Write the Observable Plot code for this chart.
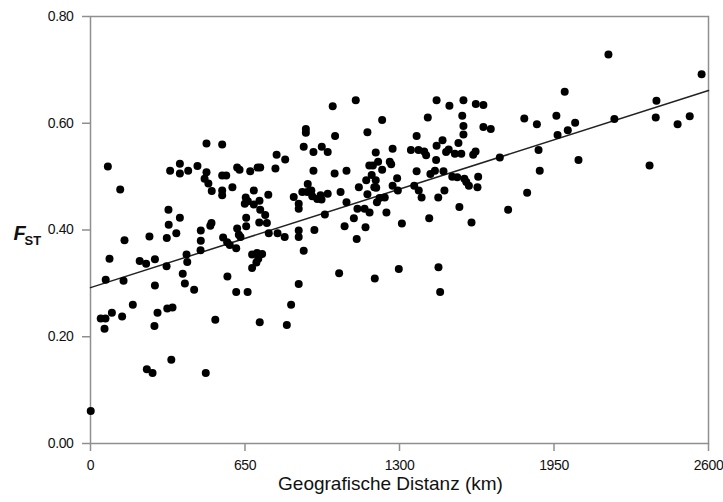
<!DOCTYPE html>
<html>
<head>
<meta charset="utf-8">
<script src="https://cdn.jsdelivr.net/npm/d3@7"></script>
<script src="https://cdn.jsdelivr.net/npm/@observablehq/plot@0.6"></script>
<style>
  html, body { margin: 0; padding: 0; background: #fff; }
  #chart svg g[aria-label$="tick label"] { letter-spacing: -0.4px; }
</style>
</head>
<body>
<div id="chart"></div>
<script>
// Pairwise geographic distance (km) between populations
const distanceKm = [
  73, 125, 143, 80, 207, 234, 271, 320, 248, 321, 329, 328, 376, 361, 335, 376, 376, 411, 450, 488,
  554, 488, 480, 496, 510, 554, 571, 554, 554, 597, 617, 627, 672, 703, 714, 783, 819, 778, 687, 748,
  653, 662, 649, 711, 687, 714, 735, 655, 655, 710, 742, 617, 624, 631, 750, 787, 817, 509, 504, 464,
  464, 463, 404, 407, 558, 575, 586, 613, 680, 701, 722, 706, 698, 680, 855,
  64, 139, 388, 397, 436, 271, 178, 90, 43, 63, 59, 133, 282, 269, 323, 345, 340, 237, 261, 485,
  525, 576, 613, 661, 712, 826, 844, 876, 1,
  1046, 1196, 1297, 1464, 1471,
  1019, 1116, 1227, 1456, 1510, 1569, 1621, 1653, 1564, 1419, 1569, 1569, 1653, 1684, 906, 906, 1029, 1165, 1372, 897,
  973, 938, 998, 1200, 1271, 1348, 1380, 1404, 1412, 1456, 1481, 1507, 1496, 1533, 1560, 1548, 1620, 1610, 1722, 1454,
  1210, 1259, 1265, 1173, 1188, 1227, 1183, 1200, 1160, 1194, 1202, 1129, 1165, 1205, 1216, 1238, 1271, 1290, 1293, 1362,
  1381, 1393, 1463, 1489, 1372, 1430, 1449, 1485, 1522, 1543, 1573, 1581, 1592, 1628, 1631, 938, 1027, 1077, 914, 891,
  912, 929, 933, 954, 972, 968, 998, 1052, 876, 876, 1077, 986, 1108, 1123, 1153, 1174, 1069, 1157, 1245, 1310,
  1425, 1552, 1603, 1757, 942, 876, 876, 1120, 897,
  2179, 2571, 1995, 2381, 1825, 1878, 1960, 2039, 2008, 1965, 2204, 2378, 2470, 2521, 1885, 1890, 2053, 2352, 1837
];

// Pairwise genetic differentiation (F_ST), same order as distanceKm
const fst = [
  0.519, 0.476, 0.381, 0.346, 0.342, 0.337, 0.345, 0.332, 0.388, 0.385, 0.410, 0.438, 0.423, 0.394, 0.511, 0.524, 0.506, 0.511, 0.520, 0.562,
  0.560, 0.508, 0.496, 0.487, 0.473, 0.502, 0.502, 0.474, 0.465, 0.480, 0.517, 0.513, 0.510, 0.517, 0.517, 0.541, 0.532, 0.515, 0.474, 0.466,
  0.461, 0.454, 0.449, 0.455, 0.448, 0.438, 0.428, 0.423, 0.407, 0.414, 0.413, 0.403, 0.391, 0.387, 0.394, 0.394, 0.387, 0.413, 0.408, 0.399,
  0.380, 0.362, 0.354, 0.340, 0.386, 0.377, 0.372, 0.366, 0.354, 0.357, 0.355, 0.346, 0.339, 0.329, 0.462,
  0.307, 0.305, 0.318, 0.300, 0.288, 0.296, 0.260, 0.245, 0.234, 0.234, 0.215, 0.238, 0.245, 0.220, 0.253, 0.255, 0.157, 0.139, 0.132, 0.132,
  0.232, 0.313, 0.284, 0.284, 0.227, 0.222, 0.260, 0.299, 0.061,
  0.319, 0.309, 0.327, 0.330, 0.284,
  0.632, 0.643, 0.606, 0.643, 0.633, 0.643, 0.636, 0.634, 0.614, 0.611, 0.595, 0.579, 0.593, 0.589, 0.589, 0.582, 0.576, 0.583, 0.576, 0.556,
  0.556, 0.546, 0.546, 0.545, 0.552, 0.550, 0.550, 0.547, 0.540, 0.558, 0.568, 0.551, 0.546, 0.543, 0.543, 0.563, 0.547, 0.541, 0.536, 0.531,
  0.528, 0.528, 0.523, 0.521, 0.521, 0.513, 0.503, 0.493, 0.493, 0.480, 0.479, 0.480, 0.467, 0.452, 0.460, 0.461, 0.483, 0.497, 0.474, 0.483,
  0.474, 0.461, 0.461, 0.474, 0.510, 0.505, 0.511, 0.510, 0.500, 0.499, 0.496, 0.490, 0.483, 0.480, 0.500, 0.511, 0.506, 0.511, 0.486, 0.471,
  0.471, 0.474, 0.463, 0.458, 0.457, 0.465, 0.468, 0.471, 0.449, 0.440, 0.452, 0.429, 0.422, 0.440, 0.440, 0.433, 0.407, 0.405, 0.433, 0.412,
  0.422, 0.443, 0.414, 0.438, 0.400, 0.399, 0.387, 0.383, 0.361,
  0.729, 0.692, 0.659, 0.642, 0.609, 0.598, 0.614, 0.601, 0.587, 0.578, 0.608, 0.611, 0.598, 0.613, 0.550, 0.511, 0.531, 0.521, 0.470
];

const xTicks = [0, 650, 1300, 1950, 2600];
const yTicks = [0, 0.2, 0.4, 0.6, 0.8];

// Linear fit of F_ST against distance
const fitIntercept = 0.292;
const fitSlope = 0.000142;

const points = distanceKm.map((d, i) => ({d, f: fst[i]}));
const fitLine = [0, 2600].map(d => ({d, f: fitIntercept + fitSlope * d}));

const axisColor = "#8f8f8f";

const chart = Plot.plot({
  width: 723,
  height: 502,
  marginLeft: 90,
  marginRight: 15,
  marginTop: 16,
  marginBottom: 59,
  style: {
    fontFamily: "'Liberation Sans', Arial, sans-serif",
    fontSize: "14px",
    color: "#111",
    background: "#fff",
    overflow: "visible"
  },
  x: {domain: [0, 2600]},
  y: {domain: [0, 0.8]},
  marks: [
    Plot.axisX({ticks: xTicks, tickSize: 8, tickPadding: 9, stroke: axisColor, strokeWidth: 1.5, fill: "#111", label: null, tickFormat: d => String(d)}),
    Plot.axisY({ticks: yTicks, tickSize: 8, tickPadding: 9, stroke: axisColor, strokeWidth: 1.5, fill: "#111", label: null, tickFormat: d3.format(".2f")}),
    Plot.frame({stroke: axisColor, strokeWidth: 1.5}),
    Plot.line(fitLine, {x: "d", y: "f", stroke: "#222", strokeWidth: 1.5}),
    Plot.dot(points, {x: "d", y: "f", r: 4, fill: "#000", stroke: "none"}),
    Plot.text(["Geografische Distanz (km)"], {text: d => d, frameAnchor: "bottom", dx: -9, dy: 46, fontSize: 19, fill: "#111"}),
    Plot.text(["F"], {text: d => d, frameAnchor: "left", dx: -77, dy: 4, textAnchor: "start", fontSize: 20, fontWeight: "bold", fontStyle: "italic", fill: "#111"}),
    Plot.text(["ST"], {text: d => d, frameAnchor: "left", dx: -66, dy: 11, textAnchor: "start", fontSize: 13, fontWeight: "bold", fill: "#111"})
  ]
});

document.getElementById("chart").append(chart);
</script>
</body>
</html>
